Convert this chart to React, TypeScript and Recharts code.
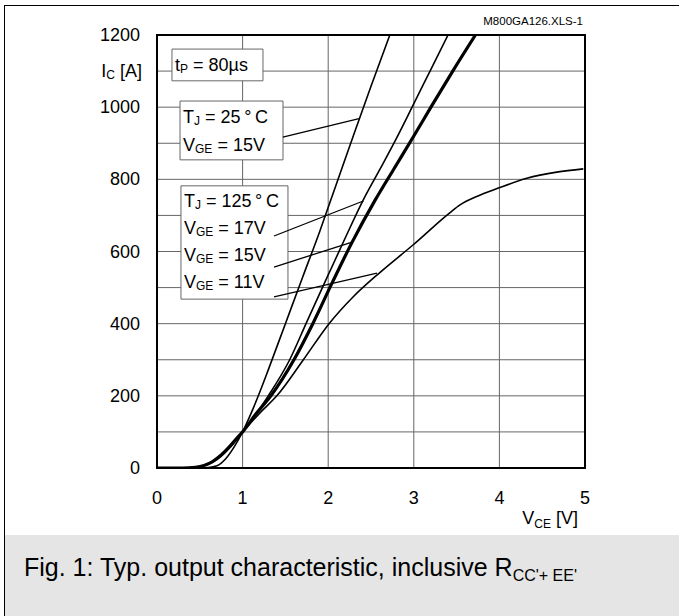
import React from "react";
import {
  LineChart,
  Line,
  XAxis,
  YAxis,
  CartesianGrid,
  ReferenceArea,
  ReferenceLine,
} from "recharts";

// V_CE [V] / I_C [A]
const vce25 = [0, 0.5, 0.6, 0.7, 0.8, 0.9, 1.0, 1.1, 1.2, 1.3, 1.5, 1.7, 1.9, 2.1, 2.3, 2.5, 2.72];
const ic25 = [0, 0, 1, 6, 25, 58, 100, 152, 210, 272, 400, 528, 655, 790, 925, 1058, 1200];

const vce17 = [0, 0.3, 0.45, 0.55, 0.65, 0.75, 0.85, 0.95, 1.0, 1.15, 1.3, 1.55, 1.75, 2.0, 2.2, 2.41, 2.6, 2.8, 2.98, 3.2, 3.4];
const ic17 = [0, 0, 2, 6, 16, 33, 56, 85, 100, 148, 200, 300, 405, 535, 638, 743, 826, 915, 1000, 1105, 1200];

const vce15 = [0, 0.3, 0.45, 0.55, 0.65, 0.75, 0.85, 0.95, 1.0, 1.15, 1.33, 1.6, 1.82, 2.05, 2.28, 2.55, 2.76, 3.0, 3.2, 3.45, 3.72];
const ic15 = [0, 0, 2, 7, 18, 36, 60, 87, 100, 148, 200, 300, 400, 515, 626, 743, 826, 920, 1000, 1098, 1200];

const vce11 = [0, 0.3, 0.45, 0.55, 0.65, 0.75, 0.85, 0.95, 1.0, 1.2, 1.4, 1.71, 2.01, 2.29, 2.61, 2.99, 3.42, 3.54, 3.75, 3.98, 4.32, 4.67, 4.98];
const ic11 = [0, 0, 2, 7, 18, 36, 60, 87, 100, 152, 200, 300, 400, 474, 543, 618, 707, 729, 754, 775, 803, 820, 829];

const xTicks = [0, 1, 2, 3, 4, 5];
const yTicks = [0, 100, 200, 300, 400, 500, 600, 700, 800, 900, 1000, 1100, 1200];
const yLabelled = [0, 200, 400, 600, 800, 1000, 1200];

// text in the boxes: [main, subscript, rest]
const tpLines = [["t", "P", " = 80µs"]];
const tj25Lines = [["T", "J", " = 25\u2009°\u2009C"], ["V", "GE", " = 15V"]];
const tj125Lines = [
  ["T", "J", " = 125\u2009°\u2009C"],
  ["V", "GE", " = 17V"],
  ["V", "GE", " = 15V"],
  ["V", "GE", " = 11V"],
];

const toPoints = (vs: number[], is: number[]) => vs.map((v, k) => ({ v, i: is[k] }));

const FONT = '"Liberation Sans", Arial, Helvetica, sans-serif';

function YTick(props: any) {
  const { x, y, payload } = props;
  const val = payload.value;
  if (val === 1100) {
    return (
      <text x={x + 2} y={y} textAnchor="end" dominantBaseline="central" fontSize={18} fill="#000" fontFamily={FONT}>
        <tspan>I</tspan>
        <tspan fontSize={12} dy={4}>C</tspan>
        <tspan dy={-4}> [A]</tspan>
      </text>
    );
  }
  if (!yLabelled.includes(val)) return null;
  return (
    <text x={x} y={y} textAnchor="end" dominantBaseline="central" fontSize={18} fill="#000" fontFamily={FONT}>
      {val}
    </text>
  );
}

function XTick(props: any) {
  const { x, y, payload } = props;
  return (
    <text x={x} y={y} textAnchor="middle" dominantBaseline="central" fontSize={18} fill="#000" fontFamily={FONT}>
      {payload.value}
    </text>
  );
}

function boxText(lines: string[][], first: number, step: number) {
  return (p: any) => {
    const vb = p.viewBox || {};
    return (
      <g>
        {lines.map((ln, k) => (
          <text
            key={k}
            x={vb.x + 3}
            y={vb.y + first + k * step}
            dominantBaseline="central"
            fontSize={18}
            fill="#000"
            fontFamily={FONT}
          >
            <tspan>{ln[0]}</tspan>
            <tspan fontSize={12} dy={4}>{ln[1]}</tspan>
            <tspan dy={-4}>{ln[2]}</tspan>
          </text>
        ))}
      </g>
    );
  };
}

export default function App() {
  return (
    <div
      style={{
        position: "absolute",
        left: 0,
        top: 0,
        width: 679,
        height: 616,
        background: "#fff",
        fontFamily: FONT,
        overflow: "hidden",
      }}
    >
      <div
        style={{
          position: "absolute",
          left: 4,
          top: 5,
          right: 0,
          bottom: 0,
          borderTop: "1.5px solid #000",
          borderLeft: "1.5px solid #000",
        }}
      />
      <div style={{ position: "absolute", left: 5, top: 535, right: 0, bottom: 0, background: "#e5e5e5" }} />
      <div style={{ position: "absolute", left: 24, top: 552, fontSize: 25, lineHeight: "30px", whiteSpace: "nowrap" }}>
        Fig. 1: Typ. output characteristic, inclusive R
        <span style={{ fontSize: 16, position: "relative", top: 5 }}>CC'+ EE'</span>
      </div>
      <div style={{ position: "absolute", right: 96, top: 14, fontSize: 11.5, lineHeight: "15px" }}>
        M800GA126.XLS-1
      </div>
      <div style={{ position: "absolute", right: 101, top: 507, fontSize: 18, lineHeight: "22px", whiteSpace: "nowrap" }}>
        V<span style={{ fontSize: 12, position: "relative", top: 4 }}>CE</span> [V]
      </div>

      <div style={{ position: "absolute", left: 0, top: 0 }}>
        <LineChart width={679} height={535} margin={{ top: 35, right: 94, bottom: 0, left: 0 }}>
          <CartesianGrid stroke="#666" strokeWidth={1} />
          <XAxis
            type="number"
            dataKey="v"
            domain={[0, 5]}
            ticks={xTicks}
            allowDataOverflow
            height={67}
            axisLine={false}
            tickLine={false}
            tickSize={0}
            tickMargin={30}
            tick={<XTick />}
          />
          <YAxis
            type="number"
            dataKey="i"
            domain={[0, 1200]}
            ticks={yTicks}
            allowDataOverflow
            width={157}
            axisLine={false}
            tickLine={false}
            tickSize={0}
            tickMargin={17}
            interval={0}
            tick={<YTick />}
          />

          <Line data={toPoints(vce25, ic25)} dataKey="i" type="monotone" stroke="#000" strokeWidth={1.6} dot={false} isAnimationActive={false} />
          <Line data={toPoints(vce17, ic17)} dataKey="i" type="monotone" stroke="#000" strokeWidth={1.6} dot={false} isAnimationActive={false} />
          <Line data={toPoints(vce15, ic15)} dataKey="i" type="monotone" stroke="#000" strokeWidth={3.2} dot={false} isAnimationActive={false} />
          <Line data={toPoints(vce11, ic11)} dataKey="i" type="monotone" stroke="#000" strokeWidth={1.6} dot={false} isAnimationActive={false} />

          <ReferenceArea x1={0} x2={5} y1={0} y2={1200} fill="none" stroke="#000" strokeWidth={2} ifOverflow="visible" />

          <ReferenceArea x1={0.175} x2={1.238} y1={1073} y2={1161} fill="#fff" fillOpacity={1} stroke="#666" strokeWidth={1} ifOverflow="visible" label={boxText(tpLines, 16, 27)} />
          <ReferenceArea x1={0.269} x2={1.472} y1={854} y2={1017} fill="#fff" fillOpacity={1} stroke="#666" strokeWidth={1} ifOverflow="visible" label={boxText(tj25Lines, 16, 28)} />
          <ReferenceArea x1={0.28} x2={1.53} y1={468} y2={782} fill="#fff" fillOpacity={1} stroke="#666" strokeWidth={1} ifOverflow="visible" label={boxText(tj125Lines, 15, 27)} />

          <ReferenceLine segment={[{ x: 1.47, y: 917 }, { x: 2.36, y: 968 }]} stroke="#000" strokeWidth={1.3} ifOverflow="visible" />
          <ReferenceLine segment={[{ x: 1.367, y: 643 }, { x: 2.41, y: 740 }]} stroke="#000" strokeWidth={1.3} ifOverflow="visible" />
          <ReferenceLine segment={[{ x: 1.367, y: 557 }, { x: 2.28, y: 626 }]} stroke="#000" strokeWidth={1.3} ifOverflow="visible" />
          <ReferenceLine segment={[{ x: 1.367, y: 474 }, { x: 2.57, y: 540 }]} stroke="#000" strokeWidth={1.3} ifOverflow="visible" />
        </LineChart>
      </div>
    </div>
  );
}
